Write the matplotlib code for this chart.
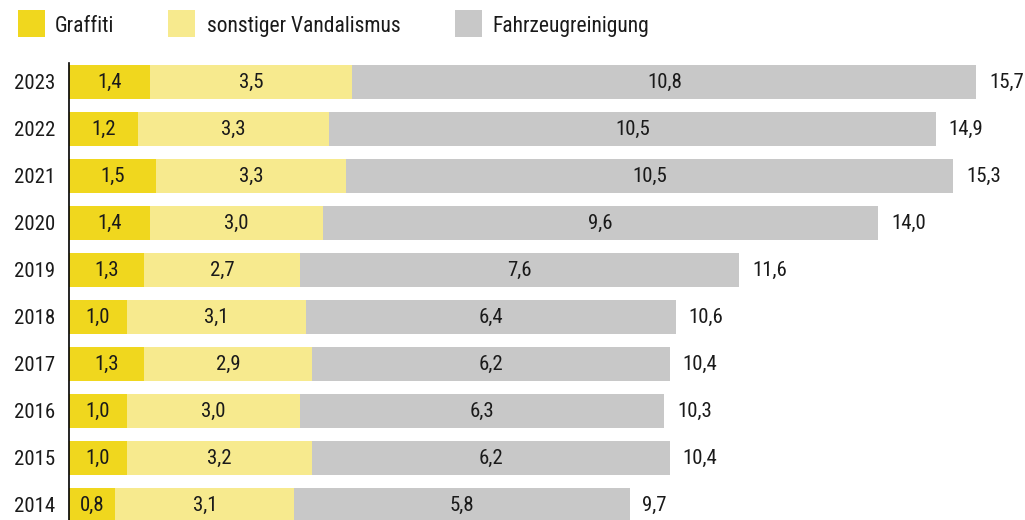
import matplotlib.pyplot as plt
from matplotlib.patches import Rectangle
from matplotlib import font_manager

# Daten (Mio. EUR)
jahre = ['2023', '2022', '2021', '2020', '2019', '2018', '2017', '2016', '2015', '2014']
graffiti = [1.4, 1.2, 1.5, 1.4, 1.3, 1.0, 1.3, 1.0, 1.0, 0.8]
vandalismus = [3.5, 3.3, 3.3, 3.0, 2.7, 3.1, 2.9, 3.0, 3.2, 3.1]
reinigung = [10.8, 10.5, 10.5, 9.6, 7.6, 6.4, 6.2, 6.3, 6.2, 5.8]
gesamt = [15.7, 14.9, 15.3, 14.0, 11.6, 10.6, 10.4, 10.3, 10.4, 9.7]
serien = ['Graffiti', 'sonstiger Vandalismus', 'Fahrzeugreinigung']
farben = ['#F0D71E', '#F7EA8E', '#C8C8C8']

namen = {f.name for f in font_manager.fontManager.ttflist}
schrift = 'DejaVu Sans'
for kandidat in ['Liberation Sans Narrow', 'DejaVu Sans Condensed', 'Roboto Condensed',
                 'Open Sans Condensed', 'Liberation Sans']:
    if kandidat in namen:
        schrift = kandidat
        break
plt.rcParams['font.family'] = [schrift, 'DejaVu Sans']
fs = 15

def de(v):
    return f'{v:.1f}'.replace('.', ',')

fig = plt.figure(figsize=(10.25, 5.2), dpi=100)
ax = fig.add_axes([69 / 1025, 0, 1 - 69 / 1025, (520 - 63) / 520])

y = list(range(len(jahre)))
links = [0] * len(jahre)
for werte, farbe in zip([graffiti, vandalismus, reinigung], farben):
    bars = ax.barh(y, werte, left=links, height=0.74, color=farbe, linewidth=0)
    for b, v in zip(bars, werte):
        ax.text(b.get_x() + b.get_width() / 2, b.get_y() + b.get_height() / 2, de(v),
                ha='center', va='center', fontsize=fs, color='#1a1a1a')
    links = [l + w for l, w in zip(links, werte)]

for yi, l, g in zip(y, links, gesamt):
    ax.text(l + 0.22, yi, de(g), ha='left', va='center', fontsize=fs, color='#1a1a1a')

ax.set_xlim(0, (1025 - 69) / 57.8)
ax.set_ylim(9.32, -0.404)
ax.set_yticks(y)
ax.set_yticklabels(jahre, fontsize=fs, color='#1a1a1a')
ax.tick_params(axis='y', length=0, pad=10)
ax.set_xticks([])
for s in ['top', 'right', 'bottom']:
    ax.spines[s].set_visible(False)
ax.spines['left'].set_linewidth(1.2)

# Legende
W, H = 1025, 520
for x0, tx, name, farbe in zip([18, 168, 455], [55, 207, 492], serien, farben):
    fig.patches.append(Rectangle((x0 / W, 1 - 37 / H), 27 / W, 27 / H,
                                 transform=fig.transFigure, color=farbe, linewidth=0))
    fig.text(tx / W, 1 - 32 / H, name, ha='left', va='baseline', fontsize=15.5, color='#1a1a1a')

fig.savefig('out.png', dpi=100)
